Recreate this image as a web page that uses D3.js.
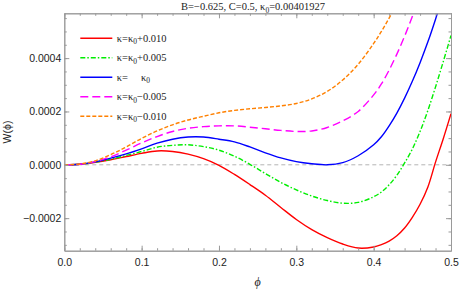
<!DOCTYPE html>
<html>
<head>
<meta charset="utf-8">
<script src="https://cdn.jsdelivr.net/npm/d3@7"></script>
<style>
  body { margin: 0; background: #fff; }
  svg { display: block; }
</style>
</head>
<body>
<div id="wrapper"></div>
<script>
// phi grid shared by all curves
const phi = [0, 0.02, 0.04, 0.06, 0.08, 0.10, 0.12, 0.14, 0.16, 0.18, 0.20,
    0.22, 0.24, 0.26, 0.28, 0.30, 0.32, 0.34, 0.36, 0.38, 0.40,
    0.41, 0.42, 0.43, 0.44, 0.45, 0.46, 0.47, 0.48, 0.49, 0.50];

// W(phi) values (null = off the top of the plot)
const wPlus010 = [0, 0.000002, 0.000009, 0.000019, 0.000031, 0.000043, 0.000052, 0.000050, 0.000040, 0.000023, -0.000002,
    -0.000036, -0.000074, -0.000114, -0.000160, -0.000205, -0.000243, -0.000273, -0.000297, -0.000312, -0.000308,
    -0.000299, -0.000286, -0.000266, -0.000237, -0.000197, -0.000148, -0.000084, 0.000010, 0.000098, 0.000192];
const wPlus005 = [0, 0.000002, 0.000010, 0.000021, 0.000035, 0.000050, 0.000066, 0.000073, 0.000075, 0.000068, 0.000055,
    0.000032, 0.000002, -0.000033, -0.000066, -0.000094, -0.000117, -0.000134, -0.000144, -0.000141, -0.000120,
    -0.000102, -0.000075, -0.000039, 0.000007, 0.000059, 0.000125, 0.000203, 0.000292, 0.000387, 0.000485];
const wKappa0 = [0, 0.000002, 0.000011, 0.000025, 0.000041, 0.000060, 0.000081, 0.000096, 0.000104, 0.000104, 0.000096,
    0.000086, 0.000067, 0.000045, 0.000026, 0.000012, 0.000004, 0.000000, 0.000008, 0.000034, 0.000075,
    0.000105, 0.000146, 0.000194, 0.000250, 0.000313, 0.000383, 0.000460, 0.000546, 0.000640, null];
const wMinus005 = [0, 0.000002, 0.000012, 0.000030, 0.000055, 0.000082, 0.000106, 0.000125, 0.000137, 0.000143, 0.000146,
    0.000146, 0.000141, 0.000135, 0.000129, 0.000125, 0.000127, 0.000140, 0.000165, 0.000200, 0.000262,
    0.000303, 0.000355, 0.000415, 0.000482, 0.000556, 0.000640, null, null, null, null];
const wMinus010 = [0, 0.000003, 0.000015, 0.000038, 0.000067, 0.000099, 0.000127, 0.000150, 0.000168, 0.000182, 0.000195,
    0.000204, 0.000210, 0.000215, 0.000221, 0.000230, 0.000247, 0.000275, 0.000318, 0.000377, 0.000455,
    0.000500, 0.000550, 0.000605, 0.000665, null, null, null, null, null, null];

const legendOffsets = ["+0.010", "+0.005", "", "\u22120.005", "\u22120.010"];
const xTicks = [0, 0.1, 0.2, 0.3, 0.4, 0.5];
const yTicks = [-0.0002, 0, 0.0002, 0.0004];

const series = [
    { values: wPlus010, color: "#ff0000", dash: null },
    { values: wPlus005, color: "#00ee00", dash: "5,2,1.5,2" },
    { values: wKappa0, color: "#0000ff", dash: null },
    { values: wMinus005, color: "#ff00ff", dash: "8,4" },
    { values: wMinus010, color: "#ff8000", dash: "4,2" }
];

const dimension = {
    width: 460,
    height: 290,
    margin: { top: 13.3, left: 64.3, bottom: 39.3, right: 9 }
};
dimension.boundedWidth = dimension.width - dimension.margin.left - dimension.margin.right;
dimension.boundedHeight = dimension.height - dimension.margin.top - dimension.margin.bottom;

const svg = d3.select("#wrapper").append("svg")
    .attr("width", dimension.width)
    .attr("height", dimension.height);

const bounded = svg.append("g")
    .attr("transform", `translate(${dimension.margin.left},${dimension.margin.top})`);

const xScaler = d3.scaleLinear().domain([0, 0.5]).range([0, dimension.boundedWidth]);
const yScaler = d3.scaleLinear().domain([-0.000322, 0.000568]).range([dimension.boundedHeight, 0]);

bounded.append("clipPath").attr("id", "clip")
    .append("rect").attr("width", dimension.boundedWidth).attr("height", dimension.boundedHeight);

// zero reference line
bounded.append("line")
    .attr("x1", 0).attr("x2", dimension.boundedWidth)
    .attr("y1", yScaler(0)).attr("y2", yScaler(0))
    .attr("stroke", "#b4b4b4").attr("stroke-width", 1).attr("stroke-dasharray", "4,3");

// curves
const lineGenerator = d3.line()
    .defined(d => d[1] !== null)
    .x(d => xScaler(d[0]))
    .y(d => yScaler(d[1]))
    .curve(d3.curveCatmullRom);

const curves = bounded.append("g").attr("clip-path", "url(#clip)");
series.forEach(s => {
    const pts = phi.map((p, i) => [p, s.values[i]]);
    curves.append("path")
        .attr("d", lineGenerator(pts))
        .attr("fill", "none")
        .attr("stroke", s.color)
        .attr("stroke-width", 1.4)
        .attr("stroke-dasharray", s.dash);
});

// frame with ticks on all four sides
const fmtY = d => d === 0 ? "0.0000" : (d < 0 ? "\u2212" : "") + Math.abs(d).toFixed(4);
const minorX = d3.range(0, 0.5001, 0.02);
const minorY = d3.range(-0.0003, 0.00056, 0.00005);

function styleAxis(g) {
    g.selectAll(".domain").attr("stroke", "#9a9a9a");
    g.selectAll(".tick line").attr("stroke", "#9a9a9a");
    g.selectAll("text").attr("fill", "#222").style("font-family", "Liberation Sans, Arial, sans-serif").style("font-size", "10.5px");
}

bounded.append("g").attr("transform", `translate(0,${dimension.boundedHeight})`)
    .call(d3.axisBottom(xScaler).tickValues(xTicks).tickFormat(d3.format(".1f")).tickSizeInner(-5).tickSizeOuter(0).tickPadding(8))
    .call(styleAxis);
bounded.append("g").attr("transform", `translate(0,${dimension.boundedHeight})`)
    .call(d3.axisBottom(xScaler).tickValues(minorX).tickFormat("").tickSizeInner(-2.5).tickSizeOuter(0))
    .call(styleAxis);
bounded.append("g")
    .call(d3.axisTop(xScaler).tickValues(xTicks).tickFormat("").tickSizeInner(-5).tickSizeOuter(0))
    .call(styleAxis);
bounded.append("g")
    .call(d3.axisTop(xScaler).tickValues(minorX).tickFormat("").tickSizeInner(-2.5).tickSizeOuter(0))
    .call(styleAxis);

bounded.append("g")
    .call(d3.axisLeft(yScaler).tickValues(yTicks).tickFormat(fmtY).tickSizeInner(-5).tickSizeOuter(0).tickPadding(3))
    .call(styleAxis);
bounded.append("g")
    .call(d3.axisLeft(yScaler).tickValues(minorY).tickFormat("").tickSizeInner(-2.5).tickSizeOuter(0))
    .call(styleAxis);
bounded.append("g").attr("transform", `translate(${dimension.boundedWidth},0)`)
    .call(d3.axisRight(yScaler).tickValues(yTicks).tickFormat("").tickSizeInner(-5).tickSizeOuter(0))
    .call(styleAxis);
bounded.append("g").attr("transform", `translate(${dimension.boundedWidth},0)`)
    .call(d3.axisRight(yScaler).tickValues(minorY).tickFormat("").tickSizeInner(-2.5).tickSizeOuter(0))
    .call(styleAxis);

// legend
const legend = bounded.append("g").attr("transform", "translate(16,25)");
series.forEach((s, i) => {
    const row = legend.append("g").attr("transform", `translate(0,${i * 19.5})`);
    row.append("line")
        .attr("x1", 0).attr("x2", 32)
        .attr("stroke", s.color).attr("stroke-width", 1.4)
        .attr("stroke-dasharray", s.dash);
    const t = row.append("text")
        .attr("x", 36.5).attr("y", 3.5)
        .style("font-family", "Liberation Serif, Times New Roman, serif")
        .style("font-size", "10.5px")
        .attr("fill", "#222");
    t.append("tspan").text("\u03ba=");
    t.append("tspan").attr("dx", legendOffsets[i] === "" ? 13 : 0).text("\u03ba");
    t.append("tspan").attr("dy", 2.5).style("font-size", "7.5px").text("0");
    t.append("tspan").attr("dy", -2.5).text(legendOffsets[i]);
});

// title
const title = svg.append("text")
    .attr("x", 253).attr("y", 10)
    .attr("text-anchor", "middle")
    .style("font-family", "Liberation Serif, Times New Roman, serif")
    .style("font-size", "10.5px")
    .attr("fill", "#222");
title.append("tspan").text("B=\u22120.625, C=0.5, \u03ba");
title.append("tspan").attr("dy", 2.5).style("font-size", "7.5px").text("0");
title.append("tspan").attr("dy", -2.5).text("=0.00401927");

// axis labels
svg.append("text")
    .attr("transform", `translate(11,${dimension.margin.top + dimension.boundedHeight / 2}) rotate(-90)`)
    .attr("text-anchor", "middle")
    .style("font-family", "Liberation Sans, Arial, sans-serif")
    .style("font-size", "10.5px")
    .attr("fill", "#222")
    .text("W(\u03d5)");

svg.append("text")
    .attr("x", dimension.margin.left + dimension.boundedWidth / 2)
    .attr("y", 286)
    .attr("text-anchor", "middle")
    .style("font-family", "Liberation Serif, Times New Roman, serif")
    .style("font-style", "italic")
    .style("font-size", "12px")
    .attr("fill", "#222")
    .text("\u03d5");
</script>
</body>
</html>
